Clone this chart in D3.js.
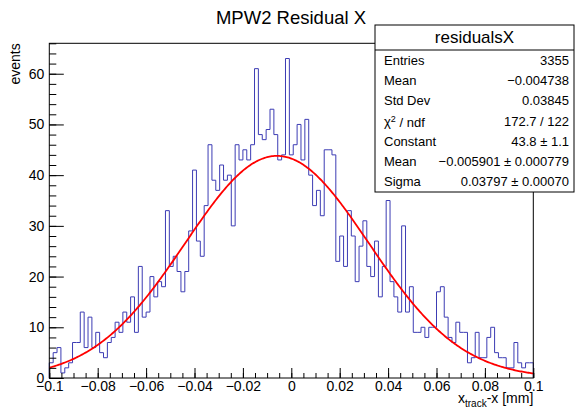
<!DOCTYPE html>
<html>
<head>
<meta charset="utf-8">
<script src="https://cdn.jsdelivr.net/npm/d3@7"></script>
<style>
  body { margin: 0; background: #fff; }
  text { font-family: "Liberation Sans", Arial, sans-serif; fill: #000; }
</style>
</head>
<body>
<div id="chart"></div>
<script>
// histogram: 125 bins from -0.1 to 0.1
var xMin = -0.1, xMax = 0.1;
var counts = [
  3, 5, 6, 1, 2, 3, 7, 7, 13, 6,
  12, 6, 9, 5, 4, 7, 8, 11, 9, 13,
  11, 16, 9, 22, 12, 13, 20, 16, 19, 18,
  33, 22, 24, 21, 17, 21, 29, 41, 27, 24,
  34, 46, 39, 37, 42, 39, 40, 30, 46, 43,
  45, 43, 46, 61, 48, 47, 49, 53, 48, 43,
  44, 63, 44, 46, 50, 43, 51, 40, 34, 37,
  32, 45, 45, 44, 23, 28, 22, 33, 28, 19,
  26, 31, 22, 20, 27, 16, 22, 35, 19, 16,
  13, 30, 13, 18, 9, 9, 10, 8, 10, 10,
  17, 18, 12, 8, 7, 11, 9, 9, 3, 4,
  9, 4, 4, 8, 10, 5, 4, 4, 2, 2,
  7, 3, 2, 3, 3
];

// gaussian fit parameters (from the stats box)
var fitConstant = 43.8;
var fitMean = -0.005901;
var fitSigma = 0.03797;

var xTicks = [-0.1, -0.08, -0.06, -0.04, -0.02, 0, 0.02, 0.04, 0.06, 0.08, 0.1];
var xTickLabels = ["\u22120.1", "\u22120.08", "\u22120.06", "\u22120.04", "\u22120.02", "0", "0.02", "0.04", "0.06", "0.08", "0.1"];
var yTicks = [0, 10, 20, 30, 40, 50, 60];

var statNames = ["Entries", "Mean", "Std Dev", "chi2", "Constant", "Mean", "Sigma"];
var statValues = ["3355", "\u22120.004738", "0.03845", "172.7 / 122", "43.8 \u00b1 1.1",
                  "\u22120.005901 \u00b1 0.000779", "0.03797 \u00b1 0.00070"];

var W = 577, H = 410;
var padL = 49.3, padR = 533.3, padT = 43.3, padB = 378;

var svg = d3.select("#chart").append("svg")
  .attr("width", W)
  .attr("height", H);

svg.append("rect").attr("width", W).attr("height", H).attr("fill", "#fff");

var x = d3.scaleLinear().domain([xMin, xMax]).range([padL, padR]);
var y = d3.scaleLinear().domain([0, 66]).range([padB, padT]);

var nbins = counts.length;
var bw = (xMax - xMin) / nbins;

// histogram outline
var pts = [[x(xMin), y(0)]];
counts.forEach(function(c, i) {
  pts.push([x(xMin + i * bw), y(c)]);
  pts.push([x(xMin + (i + 1) * bw), y(c)]);
});
pts.push([x(xMax), y(0)]);

svg.append("path")
  .attr("d", d3.line()(pts))
  .attr("fill", "none")
  .attr("stroke", "#3c3cb4")
  .attr("stroke-width", 1);

// fit curve
var fitX = d3.range(0, 401).map(function(k) { return xMin + k * (xMax - xMin) / 400; });
var gaus = function(v) {
  return fitConstant * Math.exp(-0.5 * Math.pow((v - fitMean) / fitSigma, 2));
};
svg.append("path")
  .attr("d", d3.line().x(function(d) { return x(d); }).y(function(d) { return y(gaus(d)); })(fitX))
  .attr("fill", "none")
  .attr("stroke", "#ff0000")
  .attr("stroke-width", 1.8);

// frame
svg.append("rect")
  .attr("x", padL).attr("y", padT)
  .attr("width", padR - padL).attr("height", padB - padT)
  .attr("fill", "none").attr("stroke", "#000").attr("stroke-width", 1);

// x axis
var xMinor = d3.range(0, 41).map(function(k) { return xMin + k * 0.005; });
svg.append("g")
  .attr("transform", "translate(0," + padB + ")")
  .call(d3.axisBottom(x).tickValues(xMinor).tickSize(-5).tickFormat(""))
  .call(function(g) { g.select(".domain").remove(); });

svg.append("g")
  .attr("transform", "translate(0," + padB + ")")
  .call(d3.axisBottom(x).tickValues(xTicks).tickSize(-10).tickPadding(3)
    .tickFormat(function(d, i) { return xTickLabels[i]; }))
  .call(function(g) { g.select(".domain").remove(); })
  .selectAll("text")
    .style("font-size", "14px")
    .style("font-family", "Liberation Sans, Arial, sans-serif");

// y axis
var yMinor = d3.range(0, 34).map(function(k) { return k * 2; });
svg.append("g")
  .attr("transform", "translate(" + padL + ",0)")
  .call(d3.axisLeft(y).tickValues(yMinor).tickSize(-7).tickFormat(""))
  .call(function(g) { g.select(".domain").remove(); });

svg.append("g")
  .attr("transform", "translate(" + padL + ",0)")
  .call(d3.axisLeft(y).tickValues(yTicks).tickSize(-14.5).tickPadding(5))
  .call(function(g) { g.select(".domain").remove(); })
  .selectAll("text")
    .style("font-size", "14px")
    .style("font-family", "Liberation Sans, Arial, sans-serif");

svg.selectAll(".tick line").attr("stroke", "#000");

// axis titles
svg.append("text")
  .attr("transform", "translate(20," + padT + ") rotate(-90)")
  .attr("text-anchor", "end")
  .style("font-size", "14px")
  .text("events");

var xt = svg.append("text")
  .attr("x", padR)
  .attr("y", 403)
  .attr("text-anchor", "end")
  .style("font-size", "14px");
xt.append("tspan").text("x");
xt.append("tspan").attr("dy", 4).style("font-size", "10px").text("track");
xt.append("tspan").attr("dy", -4).text("-x [mm]");

// title
svg.append("text")
  .attr("x", 291)
  .attr("y", 24)
  .attr("text-anchor", "middle")
  .style("font-size", "18.5px")
  .text("MPW2 Residual X");

// stats box
var bx0 = 375, bx1 = 574, by0 = 25, by1 = 192, titleH = 25;
var rowH = (by1 - by0 - titleH) / statNames.length;

svg.append("rect")
  .attr("x", bx0).attr("y", by0)
  .attr("width", bx1 - bx0).attr("height", by1 - by0)
  .attr("fill", "#fff").attr("stroke", "#000").attr("stroke-width", 1);

svg.append("line")
  .attr("x1", bx0).attr("x2", bx1)
  .attr("y1", by0 + titleH).attr("y2", by0 + titleH)
  .attr("stroke", "#000");

svg.append("text")
  .attr("x", (bx0 + bx1) / 2)
  .attr("y", by0 + titleH / 2)
  .attr("dy", "0.35em")
  .attr("text-anchor", "middle")
  .style("font-size", "17px")
  .text("residualsX");

statNames.forEach(function(name, i) {
  var cy = by0 + titleH + rowH * (i + 0.5);
  var t = svg.append("text")
    .attr("x", bx0 + 9)
    .attr("y", cy)
    .attr("dy", "0.35em")
    .style("font-size", "13px");
  if (name === "chi2") {
    t.append("tspan").text("\u03c7");
    t.append("tspan").attr("dy", "-0.4em").style("font-size", "9px").text("2");
    t.append("tspan").attr("dy", "0.4em").text(" / ndf");
  } else {
    t.text(name);
  }
  svg.append("text")
    .attr("x", bx1 - 5)
    .attr("y", cy)
    .attr("dy", "0.35em")
    .attr("text-anchor", "end")
    .style("font-size", "13px")
    .text(statValues[i]);
});
</script>
</body>
</html>
